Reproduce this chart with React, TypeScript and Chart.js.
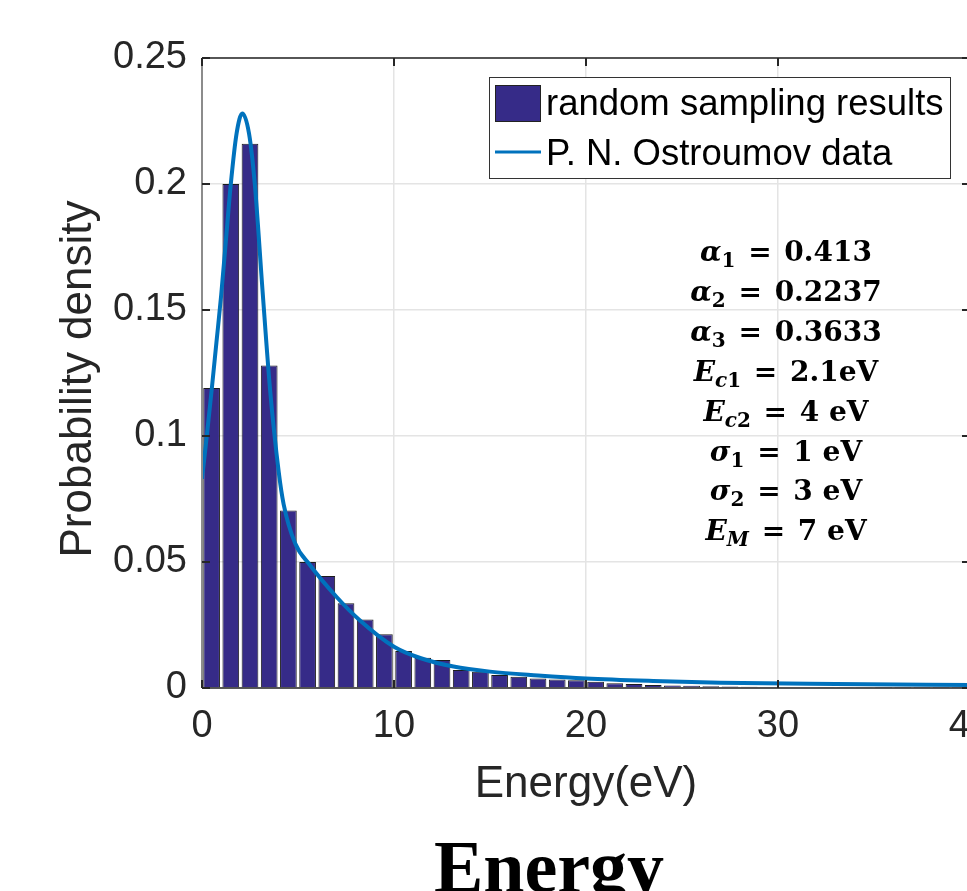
import React, { useEffect, useRef } from "react";
import { Chart, registerables } from "chart.js";

Chart.register(...registerables);

// ---- data ----
const binCenters = [
  0.5, 1.5, 2.5, 3.5, 4.5, 5.5, 6.5, 7.5, 8.5, 9.5,
  10.5, 11.5, 12.5, 13.5, 14.5, 15.5, 16.5, 17.5, 18.5, 19.5,
  20.5, 21.5, 22.5, 23.5, 24.5, 25.5, 26.5, 27.5, 28.5, 29.5,
  30.5, 31.5, 32.5, 33.5, 34.5, 35.5, 36.5, 37.5, 38.5, 39.5,
];
const binDensity = [
  0.119, 0.2, 0.216, 0.128, 0.0704, 0.05, 0.0444, 0.0336, 0.0272, 0.0213,
  0.0147, 0.012, 0.0111, 0.0071, 0.0064, 0.0052, 0.0045, 0.0038, 0.0034, 0.0031,
  0.0025, 0.0019, 0.0016, 0.0012, 0.001, 0.0009, 0.0007, 0.0006, 0.0005, 0.0004,
  0.0003, 0.0003, 0.0002, 0.0002, 0.0002, 0.0001, 0.0001, 0.0001, 0.0001, 0.0001,
];

const curveEnergy = [
  0, 0.25, 0.5, 0.75, 1.0, 1.25, 1.5, 1.8, 2.1, 2.45, 2.75, 3.15, 3.55, 4.0,
  4.25, 4.85, 5.6, 7.0, 8.2, 10.0, 11.4, 13.1, 15, 17.5, 20, 23.5, 27, 33, 40,
];
const curveDensity = [
  0.083, 0.1, 0.118, 0.137, 0.156, 0.178, 0.2, 0.22, 0.228, 0.22, 0.2, 0.158, 0.118, 0.0855,
  0.073, 0.0574, 0.049, 0.0362, 0.027, 0.0164, 0.0118, 0.0085, 0.0065, 0.005, 0.0038, 0.0028,
  0.0021, 0.0016, 0.0012,
];

const xTicks = [0, 10, 20, 30, 40];
const yTicks = [0, 0.05, 0.1, 0.15, 0.2, 0.25];

const seriesNames = ["random sampling results", "P. N. Ostroumov data"];
const xTitle = "Energy(eV)";
const yTitle = "Probability density";
const bottomTitle = "Energy";

type Seg = { t: string; it?: boolean; sub?: boolean };
const paramLines: Seg[][] = [
  [{ t: "α", it: true }, { t: "1", sub: true }, { t: " = " }, { t: "0.413" }],
  [{ t: "α", it: true }, { t: "2", sub: true }, { t: " = " }, { t: "0.2237" }],
  [{ t: "α", it: true }, { t: "3", sub: true }, { t: " = " }, { t: "0.3633" }],
  [{ t: "E", it: true }, { t: "c", it: true, sub: true }, { t: "1", sub: true }, { t: " = " }, { t: "2.1eV" }],
  [{ t: "E", it: true }, { t: "c", it: true, sub: true }, { t: "2", sub: true }, { t: " = " }, { t: "4 eV" }],
  [{ t: "σ", it: true }, { t: "1", sub: true }, { t: " = " }, { t: "1 eV" }],
  [{ t: "σ", it: true }, { t: "2", sub: true }, { t: " = " }, { t: "3 eV" }],
  [{ t: "E", it: true }, { t: "M", it: true, sub: true }, { t: " = " }, { t: "7 eV" }],
];

const BAR_COLOR = "#362b88";
const LINE_COLOR = "#0072BD";
const AXIS_COLOR = "#262626";
const SANS = '"Liberation Sans", Arial, sans-serif';

const overlayPlugin = {
  id: "overlay",
  afterDatasetsDraw(chart: any) {
    const ctx = chart.ctx as CanvasRenderingContext2D;
    const { left, right, top, bottom } = chart.chartArea;
    const xs = chart.scales.x;
    const ys = chart.scales.y;
    ctx.save();
    ctx.strokeStyle = AXIS_COLOR;
    ctx.lineWidth = 1.5;
    ctx.beginPath();
    ctx.moveTo(left, top);
    ctx.lineTo(right, top);
    ctx.moveTo(left, bottom);
    ctx.lineTo(right, bottom);
    ctx.moveTo(right, top);
    ctx.lineTo(right, bottom);
    ctx.stroke();
    ctx.strokeStyle = "#8c8c8c";
    ctx.lineWidth = 2;
    ctx.beginPath();
    ctx.moveTo(left, top);
    ctx.lineTo(left, bottom);
    ctx.stroke();
    ctx.strokeStyle = AXIS_COLOR;
    ctx.lineWidth = 2;
    ctx.beginPath();
    for (const v of yTicks) {
      const py = Math.round(ys.getPixelForValue(v));
      ctx.moveTo(left, py);
      ctx.lineTo(left + 8, py);
      ctx.moveTo(right, py);
      ctx.lineTo(right - 8, py);
    }
    for (const v of xTicks) {
      const px = Math.round(xs.getPixelForValue(v));
      ctx.moveTo(px, bottom);
      ctx.lineTo(px, bottom - 8);
      ctx.moveTo(px, top);
      ctx.lineTo(px, top + 8);
    }
    ctx.stroke();
    ctx.restore();
  },
  afterDraw(chart: any) {
    const ctx = chart.ctx as CanvasRenderingContext2D;
    const { top, bottom } = chart.chartArea;
    ctx.save();

    // legend
    ctx.fillStyle = "#ffffff";
    ctx.fillRect(489, 77, 462, 101);
    ctx.strokeStyle = "#333333";
    ctx.lineWidth = 1;
    ctx.strokeRect(489.5, 77.5, 461, 101);
    ctx.fillStyle = BAR_COLOR;
    ctx.fillRect(495, 85, 46, 37);
    ctx.strokeStyle = "#222";
    ctx.strokeRect(495.5, 85.5, 45, 36);
    ctx.strokeStyle = LINE_COLOR;
    ctx.lineWidth = 3;
    ctx.beginPath();
    ctx.moveTo(495, 152);
    ctx.lineTo(541, 152);
    ctx.stroke();
    ctx.fillStyle = "#000";
    ctx.font = `36.5px ${SANS}`;
    ctx.textAlign = "left";
    ctx.textBaseline = "alphabetic";
    ctx.fillText(seriesNames[0], 546, 115);
    ctx.fillText(seriesNames[1], 546, 165);

    // parameter annotation
    const mainSize = 28;
    const subSize = 20;
    const cx = 786;
    const firstBase = 261;
    const step = 39.9;
    paramLines.forEach((segs, i) => {
      const base = firstBase + i * step;
      const fonts = segs.map(
        (s) => `${s.it ? "italic " : ""}bold ${s.sub ? subSize : mainSize}px "DejaVu Serif", serif`
      );
      const widths = segs.map((s, k) => {
        ctx.font = fonts[k];
        return ctx.measureText(s.t).width + (s.t === " = " ? 6 : 0);
      });
      const total = widths.reduce((a, b) => a + b, 0);
      let x = cx - total / 2;
      ctx.fillStyle = "#000";
      segs.forEach((s, k) => {
        ctx.font = fonts[k];
        ctx.fillText(s.t, x + (s.t === " = " ? 3 : 0), s.sub ? base + 6 : base);
        x += widths[k];
      });
    });

    // axis titles
    ctx.fillStyle = AXIS_COLOR;
    ctx.font = `44px ${SANS}`;
    ctx.textAlign = "center";
    ctx.fillText(xTitle, 586, 797);
    ctx.save();
    ctx.translate(91, (top + bottom) / 2 + 6);
    ctx.rotate(-Math.PI / 2);
    ctx.fillText(yTitle, 0, 0);
    ctx.restore();

    // bottom title
    ctx.fillStyle = "#000";
    ctx.font = `bold 74px "Liberation Serif", "Times New Roman", serif`;
    ctx.textAlign = "center";
    ctx.fillText(bottomTitle, 549, 892);
    ctx.restore();
  },
};

export default function App() {
  const canvasRef = useRef<HTMLCanvasElement | null>(null);

  useEffect(() => {
    const canvas = canvasRef.current;
    if (!canvas) return;
    const chart = new Chart(canvas, {
      type: "bar",
      data: {
        datasets: [
          {
            type: "line",
            label: seriesNames[1],
            data: curveEnergy.map((x, i) => ({ x, y: curveDensity[i] })),
            borderColor: LINE_COLOR,
            borderWidth: 4,
            pointRadius: 0,
            fill: false,
            cubicInterpolationMode: "monotone",
            order: 0,
          } as any,
          {
            type: "bar",
            label: seriesNames[0],
            data: binCenters.map((x, i) => ({ x, y: binDensity[i] })),
            backgroundColor: BAR_COLOR,
            borderColor: "#1c1c1c",
            borderWidth: 1,
            categoryPercentage: 1,
            barPercentage: 0.87,
            order: 1,
          } as any,
        ],
      },
      options: {
        responsive: false,
        maintainAspectRatio: false,
        devicePixelRatio: 1,
        animation: false,
        layout: { padding: { left: 0, right: 30, top: 58, bottom: 0 } },
        plugins: {
          legend: { display: false },
          tooltip: { enabled: false },
          title: { display: false },
        },
        scales: {
          x: {
            type: "linear",
            min: 0,
            max: 40,
            offset: false,
            afterFit: (s: any) => {
              s.height = 203;
              s.paddingLeft = 0;
              s.paddingRight = 0;
            },
            afterBuildTicks: (s: any) => {
              s.ticks = xTicks.map((v) => ({ value: v }));
            },
            ticks: {
              padding: 16,
              maxRotation: 0,
              autoSkip: false,
              color: AXIS_COLOR,
              font: { family: SANS, size: 38 },
              callback: (v: any) => String(v),
            },
            grid: {
              offset: false,
              drawTicks: false,
              color: "#e4e4e4",
              lineWidth: 1.5,
            },
            border: { display: false },
          },
          y: {
            type: "linear",
            min: 0,
            max: 0.25,
            afterFit: (s: any) => {
              s.width = 202;
              s.paddingTop = 0;
              s.paddingBottom = 0;
            },
            afterBuildTicks: (s: any) => {
              s.ticks = yTicks.map((v) => ({ value: v }));
            },
            ticks: {
              padding: 15,
              autoSkip: false,
              color: AXIS_COLOR,
              font: { family: SANS, size: 38 },
              callback: (v: any) => String(Number(Number(v).toFixed(2))),
            },
            grid: {
              drawTicks: false,
              color: "#e4e4e4",
              lineWidth: 1.5,
            },
            border: { display: false },
          },
        },
      } as any,
      plugins: [overlayPlugin],
    });
    return () => chart.destroy();
  }, []);

  return (
    <div
      style={{
        position: "fixed",
        left: 0,
        top: 0,
        width: 967,
        height: 891,
        overflow: "hidden",
        background: "#ffffff",
      }}
    >
      <canvas
        ref={canvasRef}
        width={1000}
        height={891}
        style={{ display: "block", width: 1000, height: 891 }}
      />
    </div>
  );
}
